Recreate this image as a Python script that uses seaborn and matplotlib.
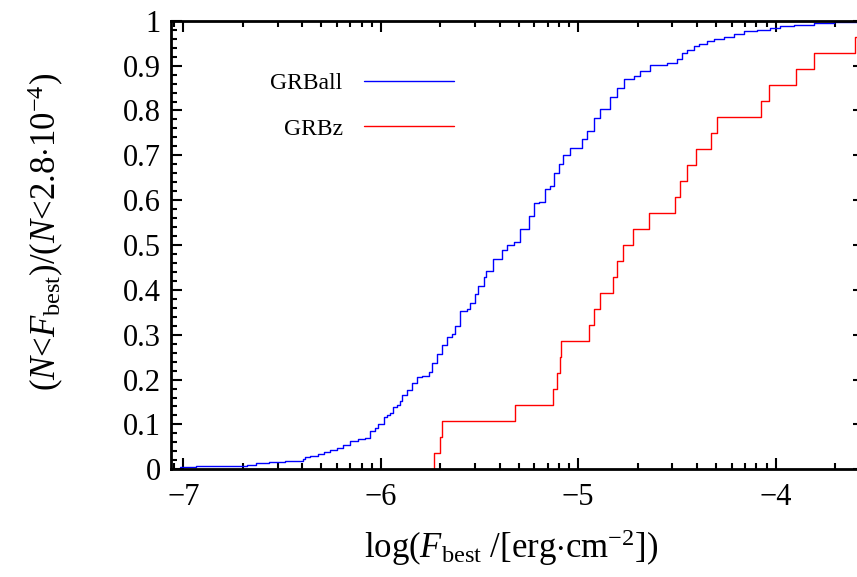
import numpy as np
import pandas as pd
import matplotlib
matplotlib.use("Agg")
import matplotlib.pyplot as plt
from matplotlib.ticker import FixedLocator, FuncFormatter
import seaborn as sns

# GRBz: log10 of best-fit fluence for the bursts with redshift (sorted)
grbz_logF = [-5.731, -5.702, -5.689, -5.320, -5.130, -5.106, -5.094, -5.087,
             -4.945, -4.920, -4.888, -4.826, -4.805, -4.771, -4.721, -4.643,
             -4.508, -4.486, -4.451, -4.403, -4.329, -4.299, -4.076, -4.035,
             -3.896, -3.807, -3.599, -3.555]

# GRBall: cumulative fraction curve (knots of the step function)
grball_logF = [-7.017, -6.936, -6.679, -6.632, -6.564, -6.485, -6.395, -6.383,
               -6.361, -6.316, -6.287, -6.256, -6.223, -6.189, -6.155, -6.113,
               -6.079, -6.054, -6.030, -6.012, -5.986, -5.970, -5.952, -5.936,
               -5.918, -5.905, -5.893, -5.868, -5.842, -5.817, -5.792, -5.758,
               -5.741, -5.716, -5.690, -5.665, -5.640, -5.623, -5.598, -5.564,
               -5.547, -5.525, -5.505, -5.479, -5.465, -5.429, -5.386, -5.361,
               -5.327, -5.294, -5.251, -5.226, -5.196, -5.167, -5.141, -5.125,
               -5.099, -5.075, -5.040, -4.981, -4.955, -4.922, -4.888, -4.837,
               -4.803, -4.770, -4.719, -4.685, -4.635, -4.550, -4.499, -4.474,
               -4.449, -4.415, -4.389, -4.347, -4.314, -4.263, -4.212, -4.162,
               -4.094, -4.026, -3.976, -3.908, -3.807, -3.706, -3.587, -3.553]
grball_frac = [0.004, 0.007, 0.010, 0.013, 0.016, 0.018, 0.022, 0.027,
               0.030, 0.034, 0.038, 0.042, 0.048, 0.054, 0.062, 0.067,
               0.069, 0.086, 0.092, 0.100, 0.116, 0.121, 0.126, 0.138,
               0.143, 0.152, 0.166, 0.177, 0.192, 0.206, 0.209, 0.218,
               0.237, 0.258, 0.278, 0.295, 0.302, 0.319, 0.352, 0.358,
               0.371, 0.390, 0.408, 0.428, 0.442, 0.468, 0.490, 0.500,
               0.506, 0.535, 0.564, 0.593, 0.597, 0.624, 0.632, 0.661,
               0.680, 0.700, 0.716, 0.736, 0.754, 0.784, 0.803, 0.829,
               0.849, 0.870, 0.876, 0.888, 0.902, 0.906, 0.915, 0.928,
               0.935, 0.943, 0.949, 0.954, 0.959, 0.964, 0.970, 0.977,
               0.980, 0.984, 0.988, 0.990, 0.995, 0.997, 0.999, 1.000]

x_major = [-7, -6, -5, -4]
y_major = [round(0.1 * i, 1) for i in range(11)]
x_limits = (-7.065, np.log10(2.8e-4))

sns.set_theme(style="ticks")
plt.rcParams["font.family"] = ["Liberation Serif", "DejaVu Serif"]
plt.rcParams["mathtext.fontset"] = "custom"
plt.rcParams["mathtext.rm"] = "Liberation Serif"
plt.rcParams["mathtext.it"] = "Liberation Serif:italic"
plt.rcParams["axes.unicode_minus"] = True

fig = plt.figure(figsize=(8.57, 5.77), dpi=100)
ax = fig.add_axes([0.199, 0.1867, 1.008 - 0.199, 0.964 - 0.1867])

all_df = pd.DataFrame({"logF": grball_logF, "frac": grball_frac})
sns.lineplot(data=all_df, x="logF", y="frac", ax=ax, color="#0000ff",
             lw=1.0, drawstyle="steps-post", label="GRBall", sort=False)
sns.ecdfplot(x=grbz_logF, ax=ax, color="#ff0000", lw=1.0, label="GRBz")

ax.set_xlim(*x_limits)
ax.set_ylim(0, 1)

minor_x = [d + np.log10(k) for d in range(-8, -3) for k in range(2, 10)]
minor_x = [v for v in minor_x if x_limits[0] < v < x_limits[1]]
ax.xaxis.set_major_locator(FixedLocator(x_major))
ax.xaxis.set_minor_locator(FixedLocator(minor_x))
ax.yaxis.set_major_locator(FixedLocator(y_major))
ax.yaxis.set_minor_locator(FixedLocator([round(0.02 * i, 2) for i in range(51)]))
ax.xaxis.set_major_formatter(FuncFormatter(lambda v, p: f"{v:g}".replace("-", "\u2212")))
ax.yaxis.set_major_formatter(FuncFormatter(lambda v, p: f"{v:g}"))

for s in ax.spines.values():
    s.set_linewidth(2.0)
    s.set_color("black")
ax.tick_params(which="both", direction="in", top=True, right=True,
               width=1.5, color="black", labelsize=22, labelcolor="black")
ax.tick_params(which="major", length=8)
ax.tick_params(which="minor", length=4)
ax.tick_params(axis="x", which="major", pad=10)
ax.tick_params(axis="y", which="major", pad=7)

ax.set_xlabel(r"log($F_{\mathrm{best}}$ /[erg$\cdot$cm$^{-2}$])", fontsize=25,
              color="black")
ax.set_ylabel(r"($N$<$F_{\mathrm{best}}$)/($N$<2.8$\cdot$10$^{-4}$)", fontsize=25,
              color="black")
ax.xaxis.label.set_verticalalignment("center")
ax.yaxis.label.set_verticalalignment("center")
ax.xaxis.set_label_coords(511 / 857, 1 - 548 / 577, transform=fig.transFigure)
ax.yaxis.set_label_coords(46 / 857, 1 - 232 / 577, transform=fig.transFigure)

leg = ax.legend(loc="center", bbox_to_anchor=(0.4224, 0.8160),
                bbox_transform=fig.transFigure, frameon=False,
                markerfirst=False, fontsize=17, handlelength=3.8,
                handletextpad=0.9, labelspacing=1.0)
for t in leg.get_texts():
    t.set_color("black")

fig.savefig("out.png", dpi=100)
